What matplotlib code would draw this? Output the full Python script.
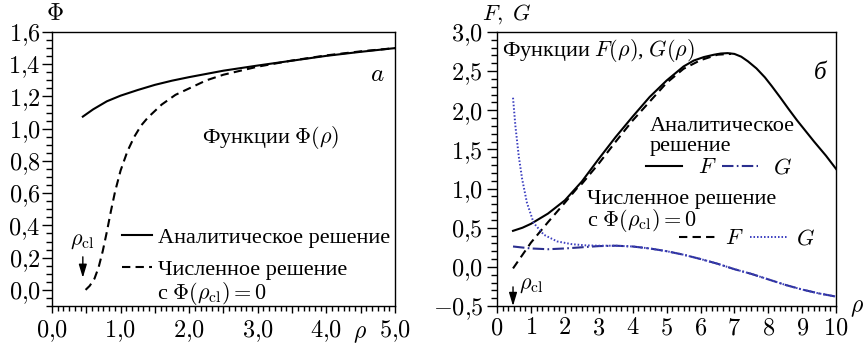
import numpy as np
import matplotlib
matplotlib.use('Agg')
import matplotlib.pyplot as plt
from matplotlib.ticker import MultipleLocator, FuncFormatter

plt.rcParams['font.family'] = ['Liberation Serif', 'DejaVu Serif']
plt.rcParams['mathtext.fontset'] = 'cm'
plt.rcParams['font.size'] = 16

# панель а: функции Phi(rho)
rho_phi_an = [0.45, 0.6, 0.8, 1.0, 1.25, 1.5, 1.75, 2.0, 2.5, 3.0, 3.5, 4.0, 4.5, 5.0]
phi_an = [1.075, 1.12, 1.17, 1.205, 1.24, 1.272, 1.298, 1.32, 1.36, 1.392, 1.422, 1.452, 1.477, 1.50]

rho_phi_num = [0.49, 0.55, 0.62, 0.68, 0.74, 0.80, 0.86, 0.92, 1.0, 1.1, 1.2, 1.3, 1.4, 1.5,
               1.6, 1.8, 2.0, 2.25, 2.5, 2.75, 3.0, 3.5, 4.0, 4.5, 5.0]
phi_num = [0.0, 0.025, 0.07, 0.14, 0.24, 0.36, 0.49, 0.61, 0.74, 0.86, 0.95, 1.02, 1.07, 1.11,
           1.15, 1.21, 1.25, 1.30, 1.335, 1.36, 1.385, 1.423, 1.455, 1.48, 1.50]

# панель б: функции F(rho), G(rho)
rho_F_an = [0.47, 0.75, 1.0, 1.5, 2.0, 2.5, 3.0, 3.5, 4.0, 4.5, 5.0, 5.5, 5.8, 6.1, 6.4, 6.6, 6.8,
            7.0, 7.2, 7.4, 7.65, 7.9, 8.1, 8.35, 8.6, 8.85, 9.1, 9.35, 9.7, 10.0]
F_an = [0.46, 0.50, 0.55, 0.68, 0.85, 1.09, 1.38, 1.66, 1.92, 2.17, 2.38, 2.56, 2.635, 2.68, 2.71, 2.725, 2.73,
        2.72, 2.685, 2.625, 2.535, 2.42, 2.31, 2.165, 2.015, 1.87, 1.735, 1.60, 1.42, 1.25]

rho_F_num = [0.47, 1.0, 1.5, 2.0, 2.35, 2.5, 3.0, 3.5, 4.0, 4.5, 5.0, 5.5, 6.0, 6.5, 6.9]
F_num = [-0.02, 0.31, 0.57, 0.82, 1.0, 1.06, 1.32, 1.60, 1.87, 2.11, 2.35, 2.53, 2.64, 2.71, 2.72]

rho_G_an = [0.47, 1.0, 1.5, 2.0, 2.5, 3.0, 3.5, 4.0, 4.5, 5.0, 5.5, 6.0, 6.5, 7.0, 7.5,
            8.0, 8.5, 9.0, 9.5, 10.0]
G_an = [0.26, 0.235, 0.225, 0.235, 0.25, 0.265, 0.27, 0.26, 0.235, 0.20, 0.155, 0.10, 0.04, -0.03, -0.09,
        -0.16, -0.23, -0.29, -0.34, -0.38]

rho_G_num = [0.47, 0.54, 0.64, 0.74, 0.88, 1.08, 1.38, 1.77, 2.2, 2.6, 3.0, 3.5, 4.0, 4.5, 5.0,
             5.5, 6.0, 6.5, 7.0, 7.5, 8.0, 8.5, 9.0, 9.5, 10.0]
G_num = [2.16, 1.80, 1.41, 1.12, 0.82, 0.56, 0.41, 0.325, 0.29, 0.275, 0.27, 0.27, 0.26, 0.235, 0.20,
         0.155, 0.10, 0.04, -0.03, -0.09, -0.16, -0.23, -0.29, -0.34, -0.38]

rho_cl = 0.47

navy = '#2b2f8f'
blue = '#3c3fc0'
dashed = (0, (4, 2.5))
dashdot = (0, (5.5, 1.6, 0.8, 1.6))
dotted = (0, (0.8, 1.0))
TICK_FS = 17.5


def comma(v, nd):
    if abs(v) < 1e-9:
        v = 0.0
    s = ('%.' + str(nd) + 'f') % v
    return '$' + s.replace('.', '{,}') + '$'


def fmt_a_x(v, pos):
    if abs(v - round(v)) > 1e-6:
        return ''
    return comma(v, 1)


def style_axes(ax):
    for sp in ax.spines.values():
        sp.set_linewidth(1.0)
    ax.tick_params(which='both', direction='out', width=1.0, top=False, right=False,
                   labelsize=TICK_FS)
    ax.tick_params(axis='y', which='major', length=7)
    ax.tick_params(axis='y', which='minor', length=4)
    ax.tick_params(axis='x', which='major', length=5, pad=4)
    ax.tick_params(axis='x', which='minor', length=3.5)


def down_arrow(ax, x, y0, y1):
    ax.annotate('', xy=(x, y1), xytext=(x, y0),
                arrowprops=dict(arrowstyle='-|>,head_length=0.5,head_width=0.15',
                                color='black', lw=1.0, shrinkA=0, shrinkB=0))


fig = plt.figure(figsize=(8.66, 3.52), dpi=100)
ax1 = fig.add_axes([0.060, 0.1307, 0.3961, 0.7784])
ax2 = fig.add_axes([0.574, 0.1307, 0.3915, 0.7784])

# ---- а ----
l_an, = ax1.plot(rho_phi_an, phi_an, color='black', lw=1.5)
l_num, = ax1.plot(rho_phi_num, phi_num, color='black', lw=1.5, linestyle=dashed)
ax1.set_xlim(0, 5)
ax1.set_ylim(-0.1, 1.6)
ax1.xaxis.set_major_locator(MultipleLocator(0.5))
ax1.xaxis.set_minor_locator(MultipleLocator(1 / 12))
ax1.yaxis.set_major_locator(MultipleLocator(0.2))
ax1.yaxis.set_minor_locator(MultipleLocator(0.05))
ax1.xaxis.set_major_formatter(FuncFormatter(fmt_a_x))
ax1.yaxis.set_major_formatter(FuncFormatter(lambda v, p: comma(v, 1)))
style_axes(ax1)
ax1.tick_params(axis='y', pad=1)

ax1.legend([l_an, l_num], ['Аналитическое решение', 'Численное решение'],
           loc='upper left', bbox_to_anchor=(0.204, 0.286), frameon=False,
           borderpad=0, borderaxespad=0, handlelength=1.36, handletextpad=0.27,
           labelspacing=0.49, fontsize=16)
ax1.text(1.53, -0.058, r'с $\Phi(\rho_{\rm cl}) = 0$', va='baseline', ha='left')
ax1.text(2.19, 0.913, r'Функции $\Phi(\rho)$', va='baseline', ha='left')
ax1.text(4.74, 1.297, r'$a$', va='baseline', ha='center', fontsize=18)
ax1.text(0.26, 0.28, r'$\rho_{\rm cl}$', va='baseline', ha='left')
down_arrow(ax1, 0.45, 0.205, 0.075)
ax1.text(0.009, 1.044, r'$\Phi$', transform=ax1.transAxes, va='baseline', ha='center', fontsize=17)
ax1.text(0.898, -0.117, r'$\rho$', transform=ax1.transAxes, va='baseline', ha='center', fontsize=17)

# ---- б ----
f_an, = ax2.plot(rho_F_an, F_an, color='black', lw=1.5)
g_an, = ax2.plot(rho_G_an, G_an, color=navy, lw=1.5, linestyle=dashdot)
f_num, = ax2.plot(rho_F_num, F_num, color='black', lw=1.5, linestyle=dashed)
g_num, = ax2.plot(rho_G_num, G_num, color=blue, lw=1.4, linestyle=dotted)
ax2.set_xlim(0, 10)
ax2.set_ylim(-0.5, 3.0)
ax2.xaxis.set_major_locator(MultipleLocator(1))
ax2.xaxis.set_minor_locator(MultipleLocator(1 / 6))
ax2.yaxis.set_major_locator(MultipleLocator(0.5))
ax2.yaxis.set_minor_locator(MultipleLocator(0.1))
ax2.xaxis.set_major_formatter(FuncFormatter(lambda v, p: '$%d$' % round(v)))
ax2.yaxis.set_major_formatter(FuncFormatter(lambda v, p: comma(v, 1)))
style_axes(ax2)
ax2.tick_params(axis='y', pad=3)

leg1 = ax2.legend([f_an, g_an], ['$F$', '$G$'], ncol=2,
                  loc='upper left', bbox_to_anchor=(0.4395, 0.541), frameon=False,
                  borderpad=0, borderaxespad=0, handlelength=1.62, handletextpad=0.7,
                  columnspacing=0.25, fontsize=16)
ax2.add_artist(leg1)
ax2.legend([f_num, g_num], ['$F$', '$G$'], ncol=2,
           loc='upper left', bbox_to_anchor=(0.537, 0.282), frameon=False,
           borderpad=0, borderaxespad=0, handlelength=1.7, handletextpad=0.35,
           columnspacing=0.3, fontsize=16)

ax2.text(0.15, 2.69, r'Функции $F(\rho)$, $G(\rho)$', va='baseline', ha='left')
ax2.text(9.53, 2.40, 'б', va='baseline', ha='center', fontstyle='italic', fontsize=18)
ax2.text(4.51, 1.735, 'Аналитическое', va='baseline', ha='left')
ax2.text(4.51, 1.478, 'решение', va='baseline', ha='left')
ax2.text(2.65, 0.808, 'Численное решение', va='baseline', ha='left')
ax2.text(2.65, 0.517, r'с $\Phi(\rho_{\rm cl}) = 0$', va='baseline', ha='left')
ax2.text(0.65, -0.282, r'$\rho_{\rm cl}$', va='baseline', ha='left')
down_arrow(ax2, rho_cl, -0.256, -0.5)
ax2.text(0.03, 1.045, r'$F,\ G$', transform=ax2.transAxes, va='baseline', ha='center', fontsize=16)
ax2.text(1.062, -0.021, r'$\rho$', transform=ax2.transAxes, va='baseline', ha='center', fontsize=17)

fig.savefig('out.png', dpi=100)
